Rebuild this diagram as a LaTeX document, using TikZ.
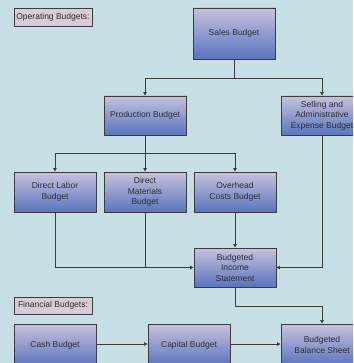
\documentclass[tikz,border=0pt]{standalone}
\usepackage{fontspec}
\setmainfont{Liberation Sans}
\usetikzlibrary{arrows.meta}
\definecolor{bgblue}{RGB}{200,222,229}
\definecolor{boxtop}{RGB}{198,194,220}
\definecolor{boxbot}{RGB}{90,116,190}
\definecolor{labfill}{RGB}{216,204,216}
\definecolor{edge}{RGB}{60,60,60}
\definecolor{ink}{RGB}{45,45,50}
\begin{document}
\begin{tikzpicture}[x=1pt,y=-1pt,
  budget/.style={draw=edge,line width=0.9pt,top color=boxtop,bottom color=boxbot,
    minimum width=82pt,minimum height=39pt,inner sep=1pt,align=center,text=ink,
    font=\fontsize{8.5}{10.5}\selectfont},
  tag/.style={draw=edge,line width=0.9pt,fill=labfill,minimum width=78pt,minimum height=18pt,
    inner sep=1pt,text=ink,font=\fontsize{8.5}{10}\selectfont},
  link/.style={draw=edge,line width=0.8pt},
  arr/.style={link,-{Triangle[length=3.5pt,width=3.5pt]}}]
\useasboundingbox (0,0) rectangle (353,363);
\clip (0,0) rectangle (353,363);
\fill[bgblue] (0,0) rectangle (353,363);

% section labels
\node[tag] (oplab) at (53,17) {Operating Budgets:};
\node[tag,minimum height=17pt] (finlab) at (53,305.5) {Financial Budgets:};

% operating budgets
\node[budget,minimum height=51pt] (sales) at (234,33.5) {Sales Budget};
\node[budget] (prod) at (145,115.5) {Production Budget};
\node[budget] (sell) at (322,115.5) {Selling and\\Administrative\\Expense Budget};
\node[budget,minimum height=40pt] (dl) at (55,192) {Direct Labor\\Budget};
\node[budget,minimum height=40pt] (dm) at (145,192) {Direct\\Materials\\Budget};
\node[budget,minimum height=40pt] (oh) at (235,192) {Overhead\\Costs Budget};
\node[budget] (inc) at (235,267.5) {Budgeted\\Income\\Statement};

% financial budgets
\node[budget,minimum height=42pt] (cash) at (55,345) {Cash Budget};
\node[budget,minimum height=42pt] (cap) at (189,345) {Capital Budget};
\node[budget,minimum height=42pt] (bal) at (322,345) {Budgeted\\Balance Sheet};

% junctions
\coordinate (j1) at (234,78);
\coordinate (j2) at (145,153);
\coordinate (j3) at (235,306);

% connectors
\draw[link] (sales) -- (j1);
\draw[arr] (j1) -| (prod);
\draw[arr] (j1) -| (sell);
\draw[arr] (prod) -- (dm);
\draw[arr] (j2) -| (dl);
\draw[arr] (j2) -| (oh);
\draw[arr] (dl) |- (inc);
\draw[link] (dm) -- (dm.south |- inc.west);
\draw[arr] (oh) -- (inc);
\draw[arr] (sell) |- (inc);
\draw[link] (inc) -- (j3);
\draw[arr] (j3) -| (bal);
\draw[arr] (cash.east |- 0,344) -- (cap.west |- 0,344);
\draw[arr] (cap.east |- 0,344) -- (bal.west |- 0,344);
\end{tikzpicture}
\end{document}
